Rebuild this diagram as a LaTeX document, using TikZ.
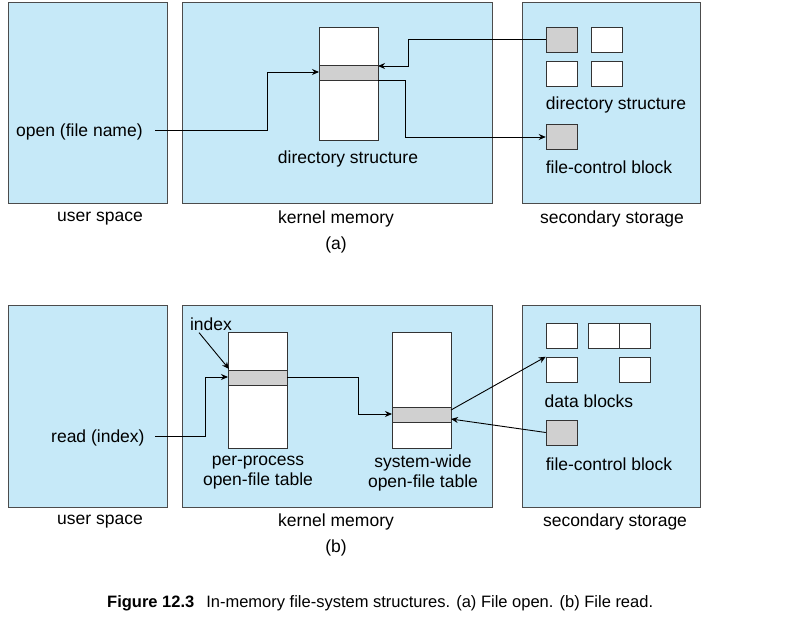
\documentclass[tikz,border=0pt]{standalone}
\usepackage{fontspec}
\setmainfont{Liberation Sans}
\usetikzlibrary{arrows.meta}
\definecolor{pane}{HTML}{C6E9F8}
\definecolor{band}{HTML}{D0D0D0}
\begin{document}
\begin{tikzpicture}[x=1pt,y=-1pt,
 pane/.style={draw=black!70,fill=pane,line width=0.6pt},
 col/.style={draw=black!80,fill=white,line width=0.5pt},
 gband/.style={draw=black!80,fill=band,line width=0.5pt},
 blk/.style={draw=black!80,fill=white,line width=0.5pt},
 gblk/.style={draw=black!80,fill=band,line width=0.5pt},
 lbl/.style={font=\fontsize{17.5}{20}\selectfont,inner sep=1pt,yshift=-2pt},
 conn/.style={line width=0.9pt,-{Stealth[length=7pt,width=6pt]}}]
\useasboundingbox (0,0) rectangle (805,617);
% panel a
\path[pane] (8,2) rectangle (167,203);
\path[pane] (182,2) rectangle (492,203);
\path[pane] (522,2) rectangle (700,203);
\path[col] (319,27) rectangle (378,140);
\path[gband] (319,65) rectangle (378,80);
\node[gblk,minimum width=31,minimum height=25,inner sep=0] (a1) at (561.5,39.5) {};
\node[blk,minimum width=31,minimum height=25,inner sep=0] (a2) at (607,39.5) {};
\node[blk,minimum width=31,minimum height=25,inner sep=0] (a3) at (561.5,73.5) {};
\node[blk,minimum width=31,minimum height=25,inner sep=0] (a4) at (607,73.5) {};
\node[gblk,minimum width=31,minimum height=25,inner sep=0] (afcb) at (561.5,137) {};
\coordinate (dtop) at (378,66);
\coordinate (din) at (319,72);
\coordinate (dout) at (378,80);
\node[lbl] at (616,103) {directory structure};
\node[lbl] at (609,165) {file-control block};
\node[lbl] at (348,157) {directory structure};
\node[lbl,anchor=west] (open) at (15,130) {open (file name)};
\node[lbl] at (100,217) {user space};
\node[lbl] at (336,217) {kernel memory};
\node[lbl] at (612,217) {secondary storage};
\node[lbl] at (336,243) {(a)};
\draw[conn] (155,130) -- (267,130) |- (din);
\draw[conn] (a1.west) -- (408,39.5) |- (dtop);
\draw[conn] (dout) -- (405,80) |- (afcb.west);
% panel b
\path[pane] (8,305) rectangle (167,507);
\path[pane] (182,305) rectangle (492,507);
\path[pane] (522,305) rectangle (700,507);
\path[col] (228,332) rectangle (287,448);
\path[gband] (228,370) rectangle (287,385);
\path[col] (392,332) rectangle (451,448);
\path[gband] (392,407) rectangle (451,422);
\node[blk,minimum width=31,minimum height=25,inner sep=0] (b1) at (561.5,335.5) {};
\node[blk,minimum width=31,minimum height=25,inner sep=0] (b2) at (603.5,335.5) {};
\node[blk,minimum width=31,minimum height=25,inner sep=0] (b3) at (634.5,335.5) {};
\node[blk,minimum width=31,minimum height=25,inner sep=0] (b4) at (561.5,369.5) {};
\node[blk,minimum width=31,minimum height=25,inner sep=0] (b5) at (634.5,369.5) {};
\node[gblk,minimum width=31,minimum height=25,inner sep=0] (bfcb) at (561.5,432.5) {};
\coordinate (pin) at (228,377);
\coordinate (pout) at (287,377);
\coordinate (sin) at (392,414);
\coordinate (sout) at (451,410);
\coordinate (sin2) at (451,419);
\node[lbl] at (589,399) {data blocks};
\node[lbl] at (609,462) {file-control block};
\node[lbl] (idx) at (211,322) {index};
\node[lbl,align=center] at (258,471) {per-process\\open-file table};
\node[lbl,align=center] at (423,471) {system-wide\\open-file table};
\node[lbl,anchor=west] (read) at (50,436) {read (index)};
\node[lbl] at (100,520) {user space};
\node[lbl] at (336,520) {kernel memory};
\node[lbl] at (615,520) {secondary storage};
\node[lbl] at (336,546) {(b)};
\draw[conn] (idx.south) ++(-12,1) -- (229,369);
\draw[conn] (155,436) -- (205,436) |- (pin);
\draw[conn] (pout) -- (358,377) |- (sin);
\draw[conn] (sout) -- (b4.north west);
\draw[conn] (bfcb.west) -- (sin2);
\node[lbl,anchor=west,font=\fontsize{16.5}{18}\selectfont] at (106,601) {\textbf{Figure 12.3}\hspace{12pt}In-memory file-system structures. (a) File open. (b) File read.};
\end{tikzpicture}
\end{document}
